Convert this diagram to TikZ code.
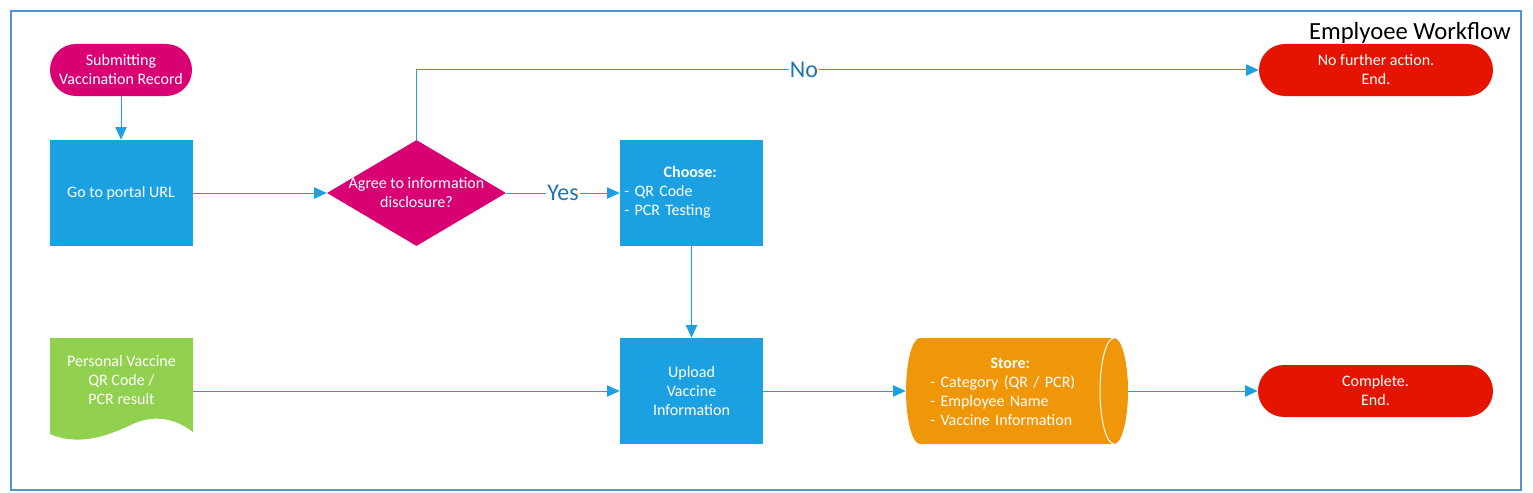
\documentclass[tikz,border=0pt]{standalone}
\usepackage{fontspec}
\setmainfont{Carlito}
\usetikzlibrary{arrows.meta,shapes.geometric}
\definecolor{cMag}{RGB}{216,0,115}
\definecolor{cBlue}{RGB}{27,161,226}
\definecolor{cRed}{RGB}{229,20,0}
\definecolor{cGreen}{RGB}{146,208,80}
\definecolor{cOrange}{RGB}{240,150,9}
\definecolor{cLine}{RGB}{27,161,226}
\definecolor{cFrame}{RGB}{80,150,215}
\definecolor{cLbl}{RGB}{30,115,180}
\begin{document}
\begin{tikzpicture}[x=0.75pt,y=-0.75pt,
  basefont/.style={font=\fontsize{12}{14.25}\selectfont},
  txt/.style={basefont, text=white, align=center, inner sep=0pt},
  pill/.style={txt, rounded corners=19.5pt, minimum height=39pt},
  box/.style={txt, fill=cBlue, minimum width=107.25pt, minimum height=79.5pt},
  ghost/.style={inner sep=0pt, minimum width=#1, minimum height=79.5pt},
  conn/.style={draw=cLine, line width=0.75pt, -{Triangle[length=9.5pt,width=8.5pt]}},
  lbl/.style={font=\fontsize{18}{21}\selectfont, text=cLbl, fill=white, inner sep=1pt},
  frame/.style={draw=cFrame, line width=1pt}
]
\useasboundingbox (0,0) rectangle (1533,492);
\draw[frame] (11,11) rectangle (1521,490);
\node[font=\fontsize{18.5}{22}\selectfont, anchor=east, inner sep=0pt] (title) at (1511,33) {Emplyoee Workflow};

% shapes
\node[pill, fill=cMag, minimum width=106.5pt] (start) at (121,70) {Submitting\\Vaccination Record};
\node[box] (go) at (121,193) {Go to portal URL};
\node[diamond, fill=cMag, inner sep=0pt, minimum width=134.25pt, minimum height=79.5pt] (dia) at (416.5,193) {};
\node[txt] (diatext) at (416.5,192.5) {Agree to information\\disclosure?};
\node[box] (choose) at (691.5,193) {};
\node[txt, anchor=west, text width=99pt, align=left] (choosetext) at (624,192.5) {\hfil\textbf{Choose:}\hfil\\- QR Code\\- PCR Testing};
\node[pill, fill=cRed, minimum width=175.5pt] (nofurther) at (1376,70) {No further action.\\End.};

% document shape
\node[ghost=107.25pt] (doc) at (121.5,391) {};
\fill[cGreen] (50,338) -- (193,338) -- (193,432)
  .. controls (175,418) and (155,415) .. (135,423)
  .. controls (110,435) and (80,447) .. (50,434) -- cycle;
\node[txt] (doctext) at (121.5,380) {Personal Vaccine\\QR Code /\\PCR result};

\node[box] (upload) at (691.5,391) {Upload\\Vaccine\\Information};

% cylinder
\node[ghost=166.5pt] (store) at (1017,391) {};
\fill[cOrange] (920,338) -- (1114,338)
  .. controls (1121.7,338) and (1128,361.7) .. (1128,391)
  .. controls (1128,420.3) and (1121.7,444) .. (1114,444)
  -- (920,444)
  .. controls (912.3,444) and (906,420.3) .. (906,391)
  .. controls (906,361.7) and (912.3,338) .. (920,338) -- cycle;
\draw[white, line width=0.75pt] (1114,338)
  .. controls (1106.3,338) and (1100,361.7) .. (1100,391)
  .. controls (1100,420.3) and (1106.3,444) .. (1114,444);
\node[txt, anchor=west, text width=120pt, align=left] (storetext) at (930,391.5) {\hfil\textbf{Store:}\hfil\\- Category (QR / PCR)\\- Employee Name\\- Vaccine Information};

\node[pill, fill=cRed, minimum width=176.25pt] (complete) at (1375.5,391) {Complete.\\End.};

% connectors
\draw[conn] (start) -- (go);
\draw[conn] (go) -- (dia);
\draw[conn] (dia) -- node[lbl] {Yes} (choose);
\draw[conn] (dia.north) |- node[lbl, pos=0.73] {No} (nofurther);
\draw[conn] (choose) -- (upload);
\draw[conn] (doc) -- (upload);
\draw[conn] (upload) -- (store);
\draw[conn] (store) -- (complete);
\end{tikzpicture}
\end{document}
